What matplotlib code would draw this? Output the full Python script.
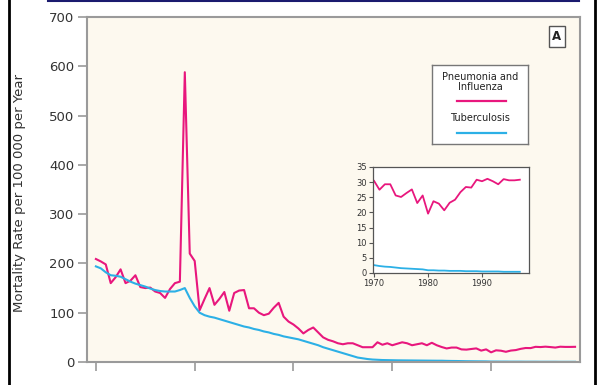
import numpy as np
import matplotlib
matplotlib.use("Agg")
import matplotlib.pyplot as plt
from matplotlib.lines import Line2D

plt.rcParams['font.family'] = ['DejaVu Sans']

# data
years_main = list(range(1900, 1970))
pneumonia_main = [209, 204, 198, 160, 172, 188, 160, 165, 176, 152,
                  150, 151, 143, 140, 130, 148, 160, 163, 588, 220,
                  205, 105, 128, 150, 116, 128, 142, 104, 140, 145,
                  146, 109, 109, 100, 95, 98, 110, 120, 92, 82,
                  76, 68, 58, 65, 70, 60, 50, 45, 42, 38,
                  36, 38, 38, 34, 30, 30, 30, 40, 35, 38,
                  34, 37, 40, 38, 34, 36, 38, 34, 39, 34]
tb_main = [194, 190, 182, 176, 175, 173, 168, 163, 159, 156,
           153, 149, 146, 144, 143, 143, 143, 146, 150, 130,
           113, 100, 95, 92, 90, 87, 84, 81, 78, 75,
           72, 70, 67, 65, 62, 60, 57, 55, 52, 50,
           48, 46, 43, 40, 37, 34, 30, 27, 24, 21,
           18, 15, 12, 9, 7.5, 6, 5, 4.5, 4, 3.8,
           3.6, 3.4, 3.3, 3.2, 3.1, 3.0, 2.9, 2.8, 2.7, 2.6]

years_inset = list(range(1970, 1998))
pneumonia_inset = [30.4, 27.5, 29.3, 29.3, 25.6, 25.1, 26.4, 27.6, 23.1, 25.6,
                   19.6, 23.7, 22.9, 20.7, 23.2, 24.2, 26.7, 28.4, 28.2, 30.8,
                   30.3, 31.1, 30.3, 29.3, 31.0, 30.6, 30.6, 30.8]
tb_inset = [2.6, 2.3, 2.1, 2.0, 1.8, 1.6, 1.5, 1.4, 1.3, 1.2,
            0.9, 0.9, 0.8, 0.8, 0.7, 0.7, 0.7, 0.6, 0.6, 0.6,
            0.5, 0.5, 0.5, 0.5, 0.4, 0.4, 0.4, 0.4]

years_all = years_main + years_inset
pneumonia_all = pneumonia_main + pneumonia_inset
tb_all = tb_main + tb_inset

main_ticks = [1900, 1920, 1940, 1960, 1980]
inset_ticks = [1970, 1980, 1990]
y_ticks = [0, 100, 200, 300, 400, 500, 600, 700]
inset_y_ticks = [0, 5, 10, 15, 20, 25, 30, 35]

pink = '#e8177d'
blue = '#2cb0e6'
cream = '#fdf9ef'
grey = '#9a9a9a'
label_col = '#333333'

fig = plt.figure(figsize=(5.98, 3.85), dpi=100)
fig.patch.set_facecolor('white')

ax = fig.add_axes([87/598, 23/385, 493/598, 345/385])
ax.set_facecolor(cream)
ax.plot(years_all, pneumonia_all, color=pink, lw=1.5)
ax.plot(years_all, tb_all, color=blue, lw=1.5)
ax.set_xlim(1898.2, 1998.0)
ax.set_ylim(0, 700)
ax.set_xticks(main_ticks)
ax.set_xticklabels([])
ax.set_yticks(y_ticks)
ax.tick_params(axis='both', direction='out', color=grey, width=1.2, length=6.5,
               labelsize=9.5, labelcolor=label_col, pad=2.5)
for s in ax.spines.values():
    s.set_color(grey)
    s.set_linewidth(1.5)
ax.set_ylabel('Mortality Rate per 100 000 per Year', fontsize=9.5,
              color=label_col)
ax.yaxis.set_label_coords(-0.124, 0.49)

# panel letter
ax.text(557/598, 1 - 36.5/385, 'A', transform=fig.transFigure, ha='center',
        va='center', fontsize=8.5, fontweight='bold', color='#222222',
        bbox=dict(boxstyle='square,pad=0.3', fc='white', ec='#555555', lw=1))

# legend box
lg = fig.add_axes([432/598, 1 - 144/385, 96/598, 79/385])
lg.set_facecolor('white')
lg.set_xticks([])
lg.set_yticks([])
for s in lg.spines.values():
    s.set_color('#777777')
    s.set_linewidth(1)
lg.set_xlim(0, 1)
lg.set_ylim(0, 1)
lg.text(0.5, 0.78, 'Pneumonia and\nInfluenza', ha='center', va='center',
        fontsize=7, color='#222222', linespacing=1.0)
lg.plot([0.26, 0.77], [0.54, 0.54], color=pink, lw=1.6)
lg.text(0.5, 0.33, 'Tuberculosis', ha='center', va='center',
        fontsize=7, color='#222222')
lg.plot([0.26, 0.77], [0.14, 0.14], color=blue, lw=1.6)

# inset
ins = fig.add_axes([373/598, 1 - 273/385, 156/598, 106/385])
ins.set_facecolor('white')
ins.plot(years_inset, pneumonia_inset, color=pink, lw=1.3)
ins.plot(years_inset, tb_inset, color=blue, lw=1.3)
ins.set_xlim(1969.8, 1998.7)
ins.set_ylim(0, 35)
ins.set_xticks(inset_ticks)
ins.set_yticks(inset_y_ticks)
ins.tick_params(axis='both', direction='out', length=3, width=0.8,
                color='#555555', labelsize=6, labelcolor=label_col, pad=1.5)
for s in ins.spines.values():
    s.set_color('#555555')
    s.set_linewidth(0.9)

# outer frame pieces
fig.add_artist(Line2D([9/598, 9/598], [0, 1], color='black', lw=2))
fig.add_artist(Line2D([595/598, 595/598], [0, 1], color='black', lw=2))
fig.add_artist(Line2D([48/598, 579/598], [1 - 1/385, 1 - 1/385],
                      color='#1a1a6e', lw=1.5))

fig.savefig('out.png', dpi=100)
